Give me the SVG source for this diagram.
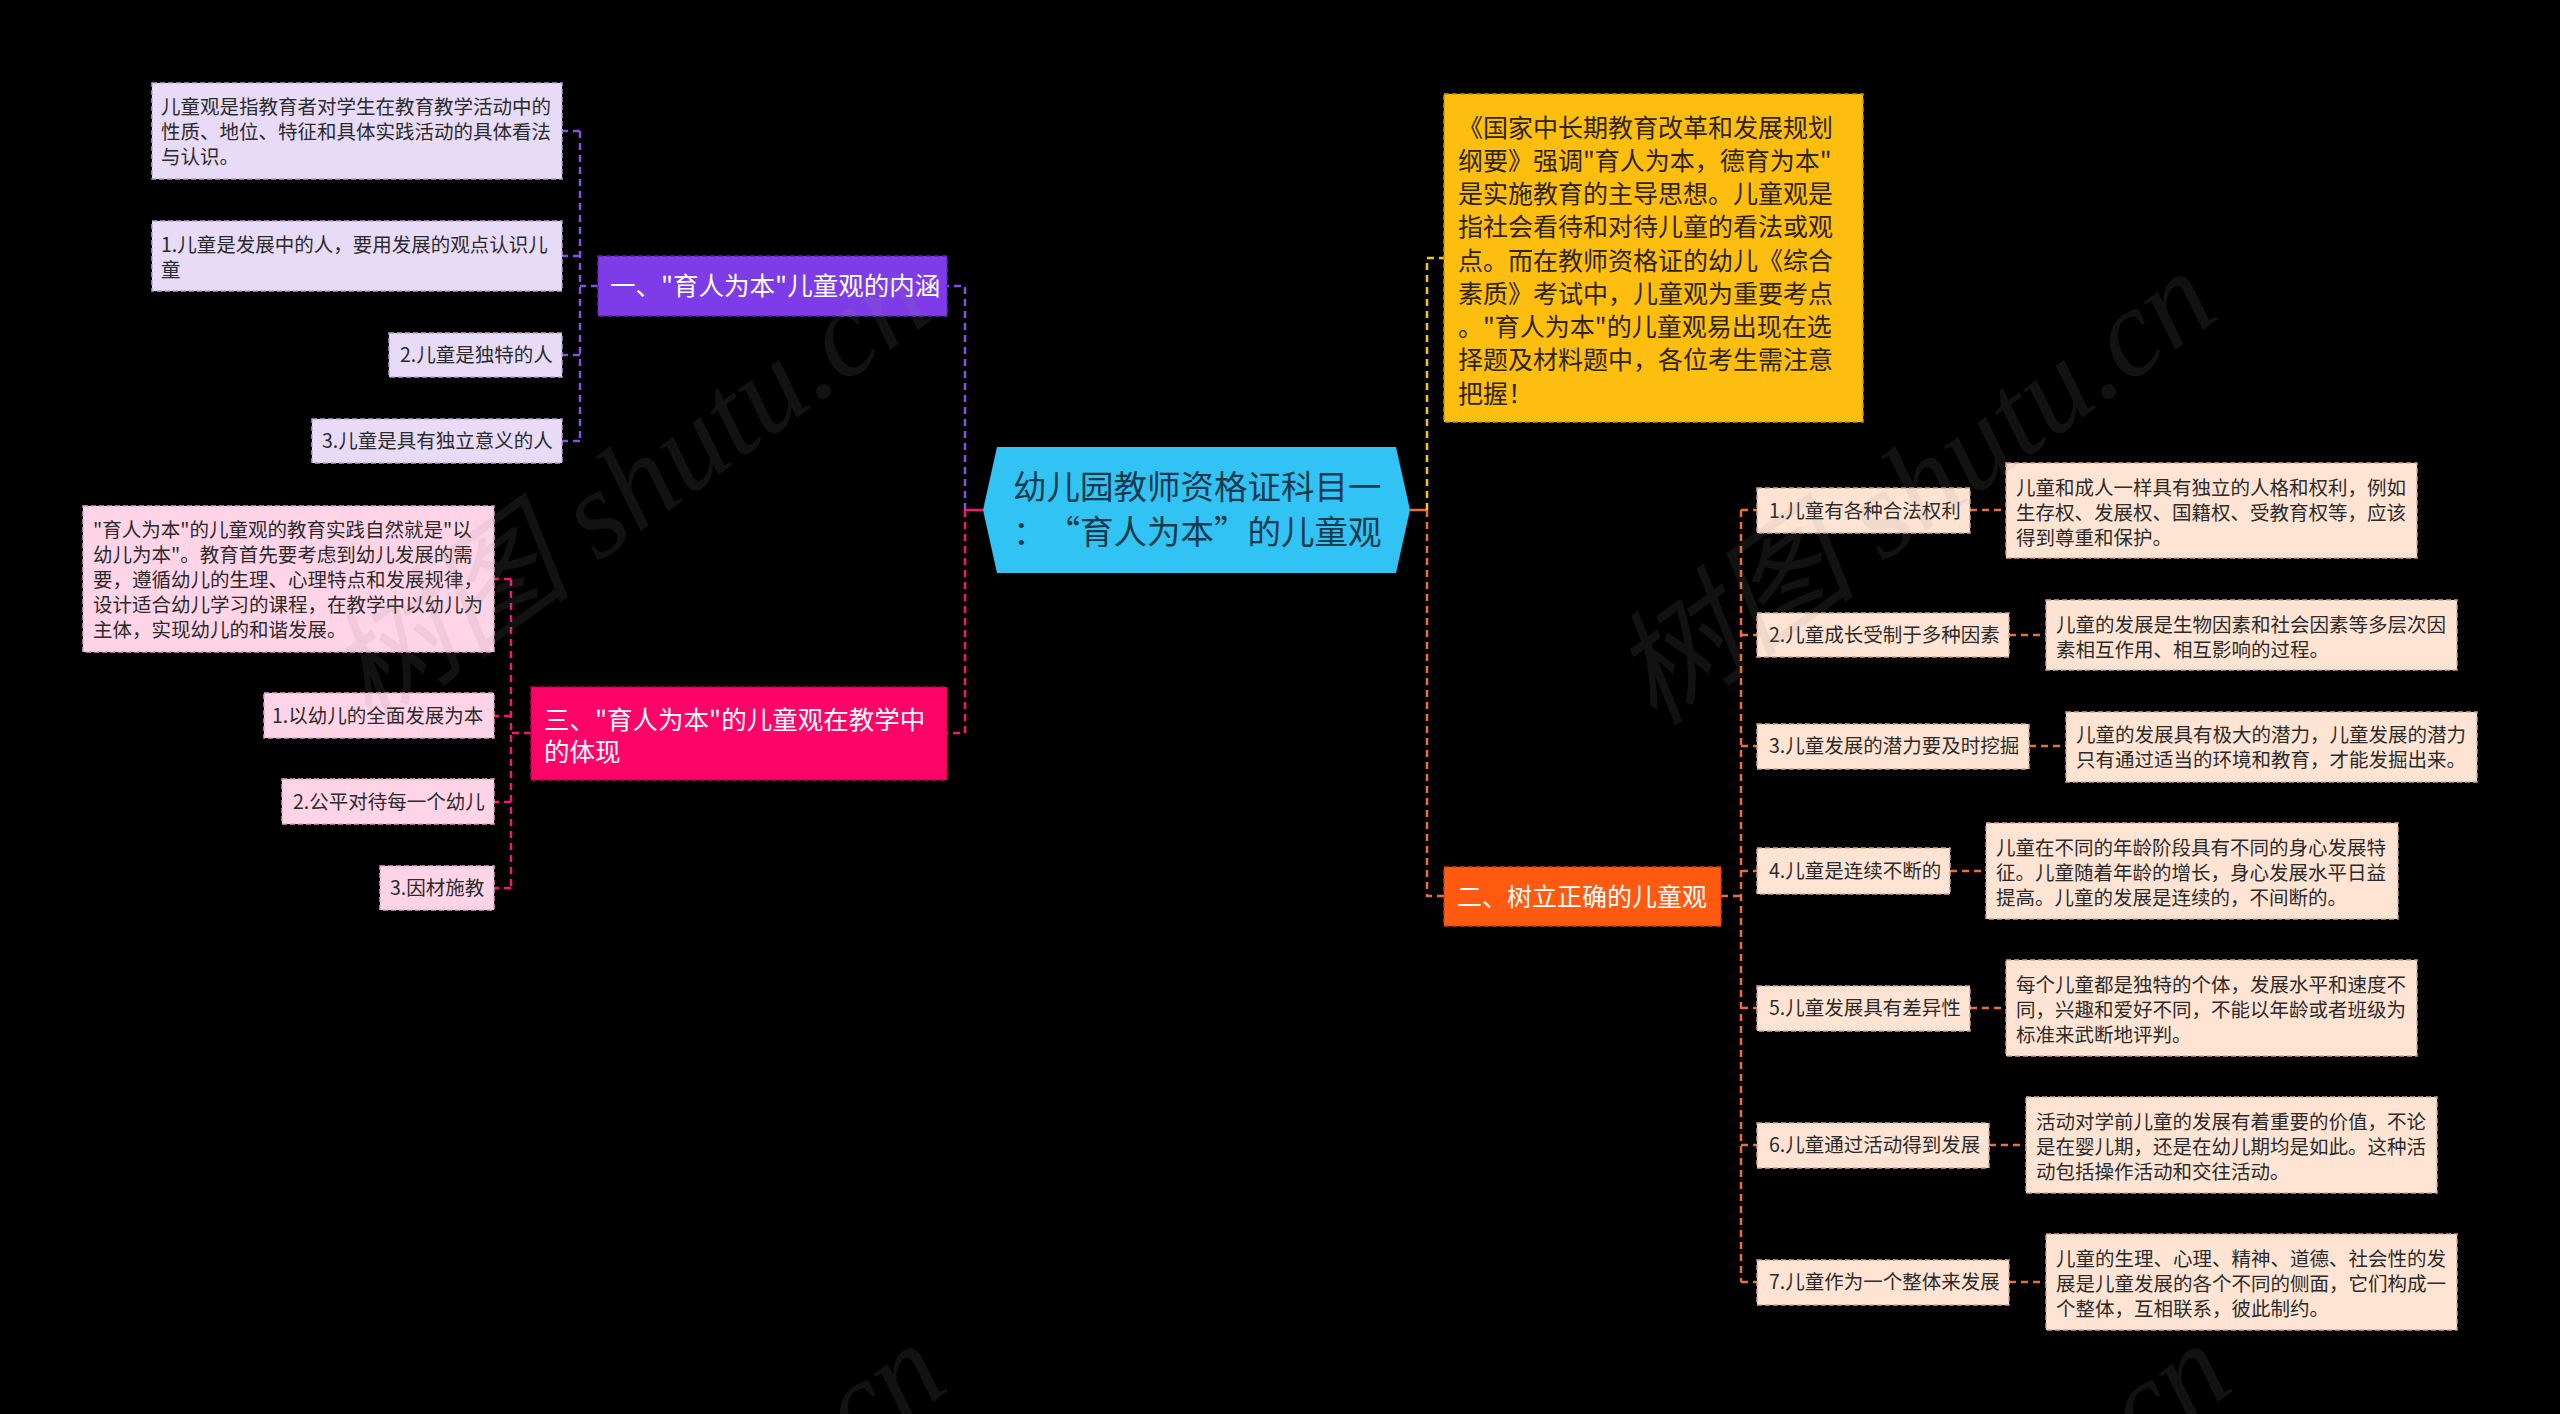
<svg xmlns="http://www.w3.org/2000/svg" width="2560" height="1414" viewBox="0 0 2560 1414">
<style>
text{font-family:"Noto Sans CJK SC","Noto Sans",sans-serif;}
.t{font-size:19.5px;fill:#2b2b2b;}
.h{font-size:25.5px;fill:#ffffff;}
.ct{font-size:33.5px;fill:#173a4c;}
.yt{font-size:25px;fill:#2e2508;}
.lav{fill:#E7DBF8;stroke:#B9A5DD;stroke-width:1.5;stroke-dasharray:5 3;}
.pnk{fill:#FFD4E6;stroke:#E7A2C1;stroke-width:1.5;stroke-dasharray:5 3;}
.pch{fill:#FFE4D4;stroke:#D6A48A;stroke-width:1.5;stroke-dasharray:5 3;}
.ln{fill:none;stroke-width:2.5;stroke-dasharray:7 5;}
.lp{stroke:#8A4EE8;}
.lk{stroke:#F0186F;}
.ly{stroke:#F6C51B;}
.lo{stroke:#E8703A;}
.wm{font-family:"Liberation Serif","Noto Sans CJK SC",serif;font-style:italic;font-size:125px;fill:#8a8a8a;fill-opacity:0.13;}
</style>
<rect x="0" y="0" width="2560" height="1414" fill="#000000"/>

<g id="connectors">
  <path d="M983,510 H965" stroke="#F0186F" stroke-width="2.5" fill="none"/>
  <path d="M1410,510 H1427" stroke="#E8703A" stroke-width="2.5" fill="none"/>
  <path class="ln lp" d="M965,510 V286 H947"/>
  <path class="ln lk" d="M965,510 V733 H947"/>
  <path class="ln ly" d="M1427,510 V258 H1444"/>
  <path class="ln lo" d="M1427,510 V896 H1444"/>
  <path class="ln lp" d="M598,286 H580"/>
  <path class="ln lp" d="M580,131 V441"/>
  <path class="ln lp" d="M580,131 H562 M580,256 H562 M580,355 H562 M580,441 H562"/>
  <path class="ln lk" d="M531,733 H511"/>
  <path class="ln lk" d="M511,579 V888"/>
  <path class="ln lk" d="M511,579 H494 M511,716 H494 M511,802 H494 M511,888 H494"/>
  <path class="ln lo" d="M1721,896 H1741"/>
  <path class="ln lo" d="M1741,510 V1282"/>
  <path class="ln lo" d="M1741,510 H1757 M1741,635 H1757 M1741,746 H1757 M1741,871 H1757 M1741,1008 H1757 M1741,1145 H1757 M1741,1282 H1757"/>
  <path class="ln lo" d="M1970,510 H2006 M2009,635 H2046 M2029,746 H2066 M1950,871 H1986 M1970,1008 H2006 M1989,1145 H2026 M2009,1282 H2046"/>
</g>

<g id="root">
  <polygon points="983,510 997,447 1396,447 1410,510 1396,573 997,573" fill="#30C3F3"/>
  <text class="ct" x="1013" y="499">幼儿园教师资格证科目一</text>
  <text class="ct" x="1013 1046.5 1080 1113.5 1147 1180.5 1214 1247.5 1281 1314.5 1348" y="544">：“育人为本”的儿童观</text>
</g>

<g id="b1">
  <rect x="598" y="256" width="349" height="60" fill="#7D3CE8" stroke="#5C25B8" stroke-width="1.5" stroke-dasharray="5 3"/>
  <text class="h" x="610" y="295">一、"育人为本"儿童观的内涵</text>
</g>
<g id="b1c0">
  <rect class="lav" x="152" y="83" width="410" height="96"/>
  <text class="t" x="161" y="114">儿童观是指教育者对学生在教育教学活动中的</text>
  <text class="t" x="161" y="139">性质、地位、特征和具体实践活动的具体看法</text>
  <text class="t" x="161" y="164">与认识。</text>
</g>
<g id="b1c1">
  <rect class="lav" x="152" y="221" width="410" height="70"/>
  <text class="t" x="161" y="252">1.儿童是发展中的人，要用发展的观点认识儿</text>
  <text class="t" x="161" y="277">童</text>
</g>
<g id="b1c2">
  <rect class="lav" x="389" y="333" width="173" height="44"/>
  <text class="t" x="400" y="362">2.儿童是独特的人</text>
</g>
<g id="b1c3">
  <rect class="lav" x="312" y="419" width="250" height="44"/>
  <text class="t" x="322" y="448">3.儿童是具有独立意义的人</text>
</g>

<g id="b3">
  <rect x="531" y="687" width="416" height="93" fill="#FF0468" stroke="#C4004E" stroke-width="1.5" stroke-dasharray="5 3"/>
  <text class="h" x="544" y="729">三、"育人为本"的儿童观在教学中</text>
  <text class="h" x="544" y="761">的体现</text>
</g>
<g id="b3c0">
  <rect class="pnk" x="83" y="506" width="411" height="146"/>
  <text class="t" x="93" y="537">"育人为本"的儿童观的教育实践自然就是"以</text>
  <text class="t" x="93" y="562">幼儿为本"。教育首先要考虑到幼儿发展的需</text>
  <text class="t" x="93" y="587">要，遵循幼儿的生理、心理特点和发展规律，</text>
  <text class="t" x="93" y="612">设计适合幼儿学习的课程，在教学中以幼儿为</text>
  <text class="t" x="93" y="637">主体，实现幼儿的和谐发展。</text>
</g>
<g id="b3c1">
  <rect class="pnk" x="264" y="693" width="230" height="45"/>
  <text class="t" x="272" y="723">1.以幼儿的全面发展为本</text>
</g>
<g id="b3c2">
  <rect class="pnk" x="282" y="779" width="212" height="45"/>
  <text class="t" x="293" y="809">2.公平对待每一个幼儿</text>
</g>
<g id="b3c3">
  <rect class="pnk" x="380" y="866" width="114" height="44"/>
  <text class="t" x="390" y="895">3.因材施教</text>
</g>

<g id="intro">
  <rect x="1444" y="94" width="419" height="328" fill="#FDBE10" stroke="#C89400" stroke-width="1.5" stroke-dasharray="5 3"/>
  <text class="yt" x="1458" y="137">《国家中长期教育改革和发展规划</text>
  <text class="yt" x="1458" y="170">纲要》强调"育人为本，德育为本"</text>
  <text class="yt" x="1458" y="203">是实施教育的主导思想。儿童观是</text>
  <text class="yt" x="1458" y="236">指社会看待和对待儿童的看法或观</text>
  <text class="yt" x="1458" y="270">点。而在教师资格证的幼儿《综合</text>
  <text class="yt" x="1458" y="303">素质》考试中，儿童观为重要考点</text>
  <text class="yt" x="1458" y="336">。"育人为本"的儿童观易出现在选</text>
  <text class="yt" x="1458" y="369">择题及材料题中，各位考生需注意</text>
  <text class="yt" x="1458" y="403">把握！</text>
</g>

<g id="b2">
  <rect x="1444" y="867" width="277" height="59" fill="#FF5A10" stroke="#C8440A" stroke-width="1.5" stroke-dasharray="5 3"/>
  <text class="h" x="1457" y="905.5" style="font-size:25px">二、树立正确的儿童观</text>
</g>

<g id="b2c1">
  <rect class="pch" x="1757" y="488" width="213" height="45"/>
  <text class="t" x="1769" y="517.5">1.儿童有各种合法权利</text>
</g>
<g id="b2c1d">
  <rect class="pch" x="2006" y="463" width="411" height="95"/>
  <text class="t" x="2016" y="495">儿童和成人一样具有独立的人格和权利，例如</text>
  <text class="t" x="2016" y="520">生存权、发展权、国籍权、受教育权等，应该</text>
  <text class="t" x="2016" y="545">得到尊重和保护。</text>
</g>
<g id="b2c2">
  <rect class="pch" x="1757" y="613" width="252" height="44"/>
  <text class="t" x="1769" y="642">2.儿童成长受制于多种因素</text>
</g>
<g id="b2c2d">
  <rect class="pch" x="2046" y="600" width="411" height="70"/>
  <text class="t" x="2056" y="632">儿童的发展是生物因素和社会因素等多层次因</text>
  <text class="t" x="2056" y="657">素相互作用、相互影响的过程。</text>
</g>
<g id="b2c3">
  <rect class="pch" x="1757" y="724" width="272" height="45"/>
  <text class="t" x="1769" y="753">3.儿童发展的潜力要及时挖掘</text>
</g>
<g id="b2c3d">
  <rect class="pch" x="2066" y="712" width="411" height="70"/>
  <text class="t" x="2076" y="742">儿童的发展具有极大的潜力，儿童发展的潜力</text>
  <text class="t" x="2076" y="767">只有通过适当的环境和教育，才能发掘出来。</text>
</g>
<g id="b2c4">
  <rect class="pch" x="1757" y="848" width="193" height="46"/>
  <text class="t" x="1769" y="878">4.儿童是连续不断的</text>
</g>
<g id="b2c4d">
  <rect class="pch" x="1986" y="823" width="412" height="96"/>
  <text class="t" x="1996" y="855">儿童在不同的年龄阶段具有不同的身心发展特</text>
  <text class="t" x="1996" y="880">征。儿童随着年龄的增长，身心发展水平日益</text>
  <text class="t" x="1996" y="905">提高。儿童的发展是连续的，不间断的。</text>
</g>
<g id="b2c5">
  <rect class="pch" x="1757" y="986" width="213" height="45"/>
  <text class="t" x="1769" y="1015">5.儿童发展具有差异性</text>
</g>
<g id="b2c5d">
  <rect class="pch" x="2006" y="960" width="411" height="96"/>
  <text class="t" x="2016" y="992">每个儿童都是独特的个体，发展水平和速度不</text>
  <text class="t" x="2016" y="1017">同，兴趣和爱好不同，不能以年龄或者班级为</text>
  <text class="t" x="2016" y="1042">标准来武断地评判。</text>
</g>
<g id="b2c6">
  <rect class="pch" x="1757" y="1123" width="232" height="45"/>
  <text class="t" x="1769" y="1152">6.儿童通过活动得到发展</text>
</g>
<g id="b2c6d">
  <rect class="pch" x="2026" y="1097" width="411" height="96"/>
  <text class="t" x="2036" y="1129">活动对学前儿童的发展有着重要的价值，不论</text>
  <text class="t" x="2036" y="1154">是在婴儿期，还是在幼儿期均是如此。这种活</text>
  <text class="t" x="2036" y="1179">动包括操作活动和交往活动。</text>
</g>
<g id="b2c7">
  <rect class="pch" x="1757" y="1260" width="252" height="45"/>
  <text class="t" x="1769" y="1289">7.儿童作为一个整体来发展</text>
</g>
<g id="b2c7d">
  <rect class="pch" x="2046" y="1234" width="411" height="96"/>
  <text class="t" x="2056" y="1266">儿童的生理、心理、精神、道德、社会性的发</text>
  <text class="t" x="2056" y="1291">展是儿童发展的各个不同的侧面，它们构成一</text>
  <text class="t" x="2056" y="1316">个整体，互相联系，彼此制约。</text>
</g>

<g id="watermarks">
  <text class="wm" transform="translate(370,728) rotate(-36)">树图 shutu.cn</text>
  <text class="wm" transform="translate(1655,728) rotate(-36)">树图 shutu.cn</text>
  <text class="wm" transform="translate(385,1800) rotate(-36)">树图 shutu.cn</text>
  <text class="wm" transform="translate(1670,1800) rotate(-36)">树图 shutu.cn</text>
</g>
</svg>
